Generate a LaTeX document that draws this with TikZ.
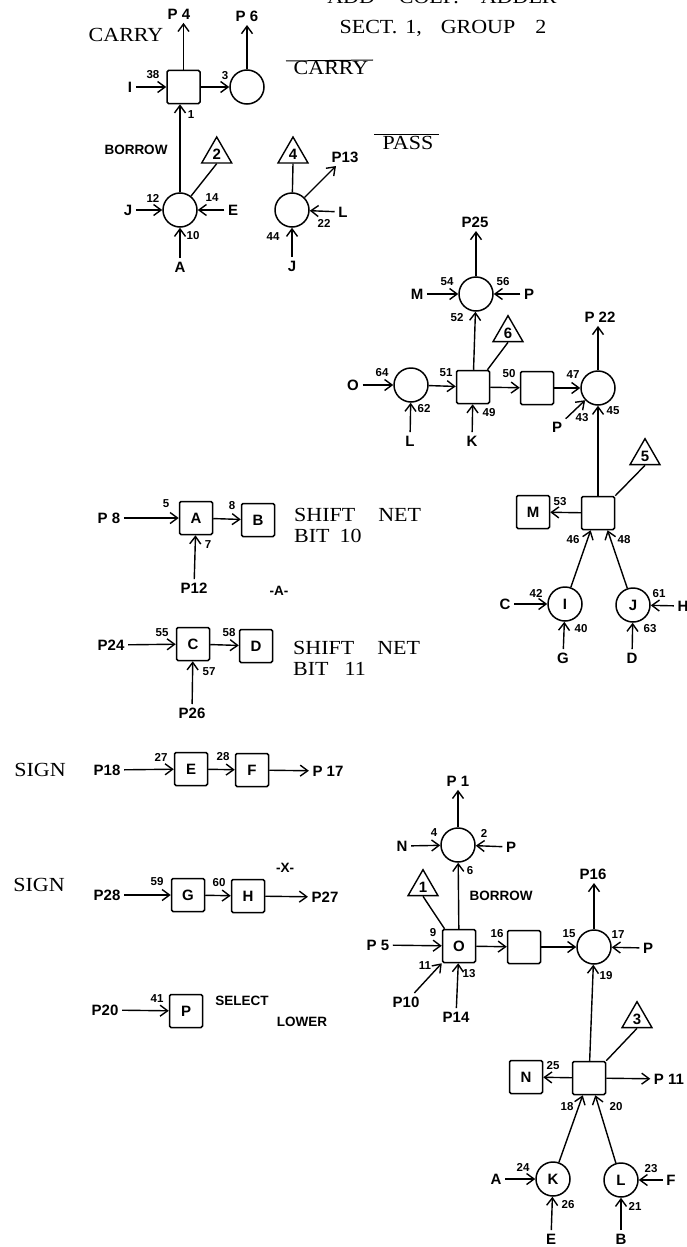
\documentclass[tikz,border=0pt]{standalone}
\usepackage{fontspec}
\setsansfont{Liberation Sans}
\newfontfamily\notefont[FakeStretch=1.1]{Liberation Serif}
\usetikzlibrary{shapes.geometric, arrows.meta}
\tikzset{
  sqbox/.style={draw, line width=1.5pt, rounded corners=1.5pt, minimum size=33pt, inner sep=0pt,
    font=\fontsize{15}{15}\selectfont\sffamily\bfseries},
  cirbox/.style={draw, circle, line width=1.5pt, minimum size=34pt, inner sep=0pt,
    font=\fontsize{15}{15}\selectfont\sffamily\bfseries},
  tribox/.style={draw, regular polygon, regular polygon sides=3, line width=1.4pt, minimum size=34.6pt,
    inner sep=0pt, font=\fontsize{15}{15}\selectfont\sffamily\bfseries},
  wire/.style={line width=1.4pt, -{Straight Barb[length=7.5pt, width=11pt, line width=1.4pt]}},
  tie/.style={line width=1.4pt},
  overbar/.style={line width=1pt},
  pinlabel/.style={inner sep=3.5pt, font=\fontsize{15}{15}\selectfont\sffamily\bfseries},
  pinnum/.style={inner sep=0pt, font=\fontsize{11.5}{12}\selectfont\sffamily\bfseries},
  notelabel/.style={inner sep=0pt, font=\fontsize{13.5}{14}\selectfont\sffamily\bfseries},
  serifnote/.style={inner sep=0pt, font=\fontsize{20}{22}\selectfont\notefont},
}
\begin{document}
\begin{tikzpicture}[x=1pt, y=-1pt]
  \useasboundingbox (0,0) rectangle (686,1247);

  % boxes
  \foreach \nm/\px/\py/\txt in {sqCarry/183.5/87/, sqAdd/473/387/, sqNext/537/388/, sqLow/598/513/,
      sqM/533/512/M, sqA/196/518/A, sqB/258/520/B, sqC/193/644/C, sqD/256/646/D, sqE/191/769/E,
      sqF/252/770/F, sqG/188/895/G, sqH/248/896/H, sqP/186/1011/P, sqO/459/946/O, sqMid/524/947/,
      sqBot/589/1078/, sqN/526/1077/N} {
    \node[sqbox] (\nm) at (\px,\py) {\txt};
  }
  % circles
  \foreach \nm/\px/\py/\txt in {cirCarry/247/87/, cirBorrow/180/210/, cirPass/292/210/, cirTop/476/294/,
      cirLeft/411/385/, cirRight/598/388/, cirI/565/604/I, cirJ/633/605/J, cirUp/458/845/,
      cirSum/594/947/, cirK/553/1179/K, cirL/621/1180/L} {
    \node[cirbox] (\nm) at (\px,\py) {\txt};
  }
  % triangles
  \foreach \nm/\px/\py/\txt in {triTwo/216.7/154.3/2, triFour/293/154.3/4, triSix/508/333/6,
      triFive/645/456/5, triOne/423/887/1, triThree/637/1019/3} {
    \node[tribox] (\nm) at (\px,\py) {\txt};
  }

  % pin labels
  \foreach \nm/\px/\py/\txt in {lI/130/87/I, lP4/179/14/P 4, lP6/247/16/P 6, lJa/128/210/J, lEa/233/210/E,
      lAa/180/267/A, lP13/345/157/P13, lLa/343/212/L, lJb/292/266/J, lP25/475/222/P25, lMa/417/294/M,
      lPa/529/294/P, lOa/353/385/O, lLb/410/441/L, lKa/472/441/K, lP22/600/317/P 22, lPb/557/427/P,
      lCa/505/604/C, lGa/563/658/G, lDa/632/658/D, lHa/683/606/H, lP8/109/518/P 8, lP12/194/588/P12,
      lP24/111/645/P24, lP26/192/713/P26, lP18/107/770/P18, lP17/328/771/P 17, lP28/107/895/P28,
      lP27/325/897/P27, lP20/105/1010/P20, lP1/458/781/P 1, lNa/402/846/N, lPc/511/847/P,
      lP5/378/945/P 5, lP10/406/1002/P10, lP14/456/1017/P14, lP16/593/874/P16, lPd/648/948/P,
      lP11/669/1079/P 11, lAb/496/1179/A, lEb/551/1239/E, lFa/671/1180/F, lBa/621/1239/B} {
    \node[pinlabel] (\nm) at (\px,\py) {\txt};
  }

  % pin numbers
  \foreach \px/\py/\txt in {153/75/38, 225/76/3, 191/115/1, 153/198/12, 212/198/14, 193/236/10,
      324/223/22, 273/237/44, 447/282/54, 503/282/56, 457/318/52, 382/373/64, 446/373/51, 424/409/62,
      489/413/49, 509/374/50, 573/375/47, 582/418/43, 613/411/45, 560/502/53, 573/540/46, 624/540/48,
      536/593/42, 581/629/40, 659/594/61, 650/629/63, 166/504/5, 232/506/8, 208/545/7, 162/633/55,
      229/633/58, 209/672/57, 161/757/27, 223/757/28, 157/882/59, 219/883/60, 157/999/41, 434/833/4,
      484/833/2, 470/871/6, 433/933/9, 425/966/11, 469/974/13, 497/934/16, 569/934/15, 618/935/17,
      606/976/19, 553/1066/25, 567/1107/18, 616/1107/20, 523/1167/24, 568/1205/26, 651/1169/23,
      635/1206/21} {
    \node[pinnum] (n\txt) at (\px,\py) {\txt};
  }

  % lettered notes
  \node[notelabel] (noteBorrowA) at (136,150) {BORROW};
  \node[notelabel] (noteBorrowB) at (501,896) {BORROW};
  \node[notelabel] (noteSelect) at (242,1001) {SELECT};
  \node[notelabel] (noteLower) at (302,1022) {LOWER};
  \node[notelabel] (noteA) at (279,591) {-A-};
  \node[notelabel] (noteX) at (285,868) {-X-};

  % typed notes
  \node[serifnote, anchor=base] (titleAdd) at (442,4) {ADD\hspace{24pt}COEF.\hspace{22pt}ADDER};
  \node[serifnote, anchor=base] (titleSect) at (443,34) {SECT.\hspace{8pt}1,\hspace{19pt}GROUP\hspace{20pt}2};
  \node[serifnote] (noteCarry) at (126,35) {CARRY};
  \node[serifnote] (noteCarryBar) at (331,68) {CARRY};
  \node[serifnote] (notePass) at (408,143) {PASS};
  \node[serifnote, anchor=west] (noteShiftA) at (294,515) {SHIFT\hspace{23pt}NET};
  \node[serifnote, anchor=west] (noteBitA) at (294,536) {BIT\hspace{10pt}10};
  \node[serifnote, anchor=west] (noteShiftB) at (293,648) {SHIFT\hspace{23pt}NET};
  \node[serifnote, anchor=west] (noteBitB) at (293,669) {BIT\hspace{16pt}11};
  \node[serifnote] (noteSignA) at (40,770) {SIGN};
  \node[serifnote] (noteSignB) at (39,885) {SIGN};
  \draw[overbar] (286,61) -- (373,60);
  \draw[overbar] (374,134) -- (439,134);

  % arrows, centre to centre
  \foreach \from/\to in {lI/sqCarry, sqCarry/cirCarry, lJa/cirBorrow, lEa/cirBorrow, lAa/cirBorrow,
      cirPass/lP13, lLa/cirPass, lJb/cirPass, lMa/cirTop, lPa/cirTop, sqAdd/cirTop, lOa/cirLeft,
      lLb/cirLeft, cirLeft/sqAdd, lKa/sqAdd, sqAdd/sqNext, sqNext/cirRight, lPb/cirRight, sqLow/cirRight,
      sqLow/sqM, lCa/cirI, lGa/cirI, lHa/cirJ, lDa/cirJ, lP8/sqA, lP12/sqA, sqA/sqB, lP24/sqC, lP26/sqC,
      sqC/sqD, lP18/sqE, sqE/sqF, sqF/lP17, lP28/sqG, sqG/sqH, sqH/lP27, lP20/sqP, lNa/cirUp, lPc/cirUp,
      sqO/cirUp, lP5/sqO, lP14/sqO, sqO/sqMid, sqMid/cirSum, lPd/cirSum, sqBot/cirSum, sqBot/sqN,
      sqBot/lP11, lAb/cirK, lEb/cirK, lFa/cirL, lBa/cirL} {
    \draw[wire] (\from) -- (\to);
  }
  % straight up to the P pins
  \foreach \from/\to in {sqCarry/lP4, cirCarry/lP6, cirTop/lP25, cirRight/lP22, cirUp/lP1, cirSum/lP16} {
    \draw[wire] (\from.north) -- (\from.north |- \to.south);
  }
  \draw[wire] (cirBorrow.north) -- (cirBorrow.north |- sqCarry.south);
  \draw[wire] (lP10) -- (sqO.south west);
  \draw[wire] (cirI) -- (sqLow.247);
  \draw[wire] (cirJ) -- (sqLow.299);
  \draw[wire] (cirK) -- (sqBot.250);
  \draw[wire] (cirL) -- (sqBot.290);

  % triangle ties
  \draw[tie] (triTwo.side 2) -- (cirBorrow);
  \draw[tie] (triFour.side 2) -- (cirPass);
  \draw[tie] (triSix.side 2) -- (sqAdd.50);
  \draw[tie] (triFive.side 2) -- (sqLow.north east);
  \draw[tie] (triOne.side 2) -- (sqO.130);
  \draw[tie] (triThree.side 2) -- (sqBot.north east);
\end{tikzpicture}
\end{document}
